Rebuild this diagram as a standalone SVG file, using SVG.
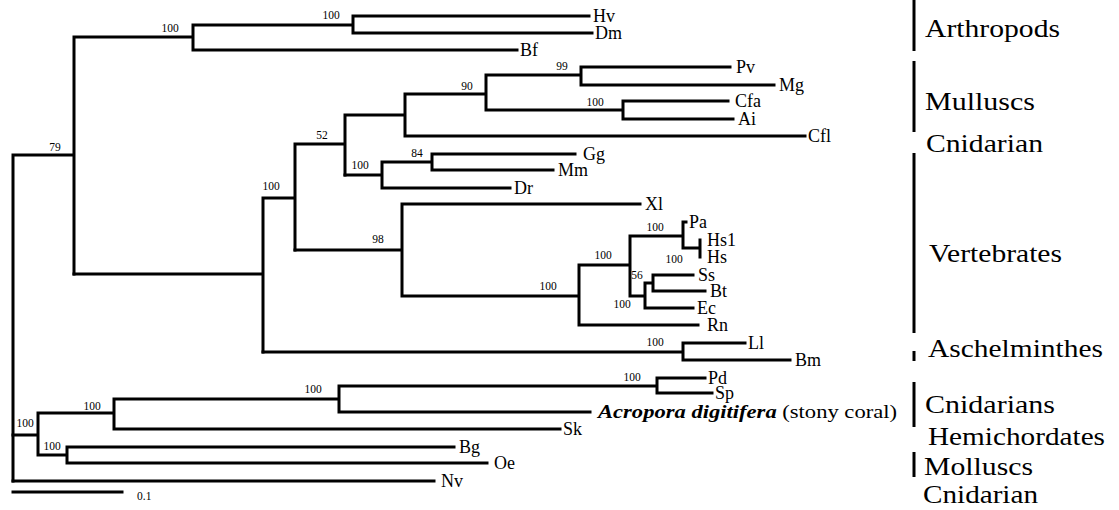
<svg xmlns="http://www.w3.org/2000/svg" width="1119" height="510" viewBox="0 0 1119 510">
<style>
.br{fill:none;stroke:#000;stroke-width:3;stroke-linecap:square}
.bar{stroke:#000;stroke-width:3}
.tip{font-family:"Liberation Serif","Times New Roman",serif;font-size:18px;fill:#000}
.bs{font-family:"Liberation Serif","Times New Roman",serif;font-size:11.5px;fill:#000;text-anchor:middle}
.grp{font-family:"Liberation Serif","Times New Roman",serif;font-size:26px;fill:#000}
</style>
<rect width="1119" height="510" fill="#fff"/>
<g id="connectors" class="br">
<path d="M13 155V481 M13 155H74 M74 37V274 M74 37H193 M193 25V50 M193 25H353 M353 16V33 M353 16H589 M353 33H592 M193 50H517"/>
<path d="M74 274H263 M263 198V352 M263 198H295 M295 144V250 M295 144H345 M345 115V175 M345 115H405 M405 94V136 M405 94H486 M486 75V110 M486 75H581 M581 67V85 M581 67H730 M581 85H774 M486 110H623 M623 101V119 M623 101H728 M623 119H733 M405 136H805"/>
<path d="M345 175H382 M382 162V188 M382 162H432 M432 154V170 M432 154H575 M432 170H553 M382 188H510"/>
<path d="M295 250H402 M402 204V296 M402 204H640 M402 296H579 M579 265V325 M579 265H630 M630 236V296 M630 236H683 M683 222V248 M683 222H686 M683 248H700 M700 240V257 M630 296H645 M645 283V308 M645 283H653 M653 275V291 M653 275H693 M653 291H705 M645 308H693 M579 325H698"/>
<path d="M263 352H683 M683 343V360 M683 343H745 M683 360H790"/>
<path d="M13 435H38 M38 413V455 M38 413H114 M114 399V429 M114 399H339 M339 386V412 M339 386H657 M657 378V393 M657 378H705 M657 393H712 M339 412H590 M114 429H560 M38 455H67 M67 447V463 M67 447H454 M67 463H487 M13 481H434"/>
<path d="M13 492H122"/>
</g>
<g id="bootstrap">
<text class="bs" x="55" y="151">79</text>
<text class="bs" x="170" y="32">100</text>
<text class="bs" x="331" y="19">100</text>
<text class="bs" x="271" y="190">100</text>
<text class="bs" x="322" y="139">52</text>
<text class="bs" x="467" y="90">90</text>
<text class="bs" x="562" y="70">99</text>
<text class="bs" x="595" y="106">100</text>
<text class="bs" x="360" y="169">100</text>
<text class="bs" x="417" y="157">84</text>
<text class="bs" x="378" y="243">98</text>
<text class="bs" x="548" y="290">100</text>
<text class="bs" x="603" y="259">100</text>
<text class="bs" x="655" y="231">100</text>
<text class="bs" x="674" y="263">100</text>
<text class="bs" x="637" y="279">56</text>
<text class="bs" x="622" y="308">100</text>
<text class="bs" x="655" y="346">100</text>
<text class="bs" x="25" y="427">100</text>
<text class="bs" x="92" y="410">100</text>
<text class="bs" x="313" y="393">100</text>
<text class="bs" x="632" y="381">100</text>
<text class="bs" x="52" y="450">100</text>
</g>
<g id="tips">
<g id="Hv"><text class="tip" x="593" y="22">Hv</text></g>
<g id="Dm"><text class="tip" x="595" y="39">Dm</text></g>
<g id="Bf"><text class="tip" x="520" y="56">Bf</text></g>
<g id="Pv"><text class="tip" x="736" y="73">Pv</text></g>
<g id="Mg"><text class="tip" x="779" y="91">Mg</text></g>
<g id="Cfa"><text class="tip" x="735" y="107">Cfa</text></g>
<g id="Ai"><text class="tip" x="738" y="125">Ai</text></g>
<g id="Cfl"><text class="tip" x="808" y="142">Cfl</text></g>
<g id="Gg"><text class="tip" x="583" y="160">Gg</text></g>
<g id="Mm"><text class="tip" x="558" y="176">Mm</text></g>
<g id="Dr"><text class="tip" x="514" y="194">Dr</text></g>
<g id="Xl"><text class="tip" x="645" y="210">Xl</text></g>
<g id="Pa"><text class="tip" x="689" y="228">Pa</text></g>
<g id="Hs1"><text class="tip" x="707" y="246">Hs1</text></g>
<g id="Hs"><text class="tip" x="707" y="263">Hs</text></g>
<g id="Ss"><text class="tip" x="698" y="281">Ss</text></g>
<g id="Bt"><text class="tip" x="710" y="297">Bt</text></g>
<g id="Ec"><text class="tip" x="697" y="314">Ec</text></g>
<g id="Rn"><text class="tip" x="707" y="331">Rn</text></g>
<g id="Ll"><text class="tip" x="748" y="349">Ll</text></g>
<g id="Bm"><text class="tip" x="795" y="366">Bm</text></g>
<g id="Pd"><text class="tip" x="708" y="384">Pd</text></g>
<g id="Sp"><text class="tip" x="715" y="399">Sp</text></g>
<g id="Acropora"><text class="tip" x="598" y="418" textLength="299" lengthAdjust="spacingAndGlyphs"><tspan font-weight="bold" font-style="italic">Acropora digitifera</tspan> (stony coral)</text></g>
<g id="Sk"><text class="tip" x="563" y="435">Sk</text></g>
<g id="Bg"><text class="tip" x="459" y="453">Bg</text></g>
<g id="Oe"><text class="tip" x="494" y="469">Oe</text></g>
<g id="Nv"><text class="tip" x="441" y="487">Nv</text></g>
</g>
<g id="scale">
<text class="bs" x="137" y="500" style="text-anchor:start">0.1</text>
</g>
<g id="groups">
<line class="bar" x1="914" y1="0" x2="914" y2="51"/>
<line class="bar" x1="914" y1="61" x2="914" y2="132"/>
<line class="bar" x1="914" y1="153" x2="914" y2="333"/>
<line class="bar" x1="914" y1="351" x2="914" y2="361"/>
<line class="bar" x1="914" y1="382" x2="914" y2="427"/>
<line class="bar" x1="914" y1="452" x2="914" y2="477"/>
<text class="grp" x="925" y="37" textLength="135" lengthAdjust="spacingAndGlyphs">Arthropods</text>
<text class="grp" x="925" y="110" textLength="110" lengthAdjust="spacingAndGlyphs">Mulluscs</text>
<text class="grp" x="926" y="152" textLength="117" lengthAdjust="spacingAndGlyphs">Cnidarian</text>
<text class="grp" x="929" y="262" textLength="133" lengthAdjust="spacingAndGlyphs">Vertebrates</text>
<text class="grp" x="928" y="357" textLength="175" lengthAdjust="spacingAndGlyphs">Aschelminthes</text>
<text class="grp" x="925" y="413" textLength="130" lengthAdjust="spacingAndGlyphs">Cnidarians</text>
<text class="grp" x="928" y="445" textLength="177" lengthAdjust="spacingAndGlyphs">Hemichordates</text>
<text class="grp" x="924" y="475" textLength="109" lengthAdjust="spacingAndGlyphs">Molluscs</text>
<text class="grp" x="923" y="503" textLength="115" lengthAdjust="spacingAndGlyphs">Cnidarian</text>
</g>
</svg>
